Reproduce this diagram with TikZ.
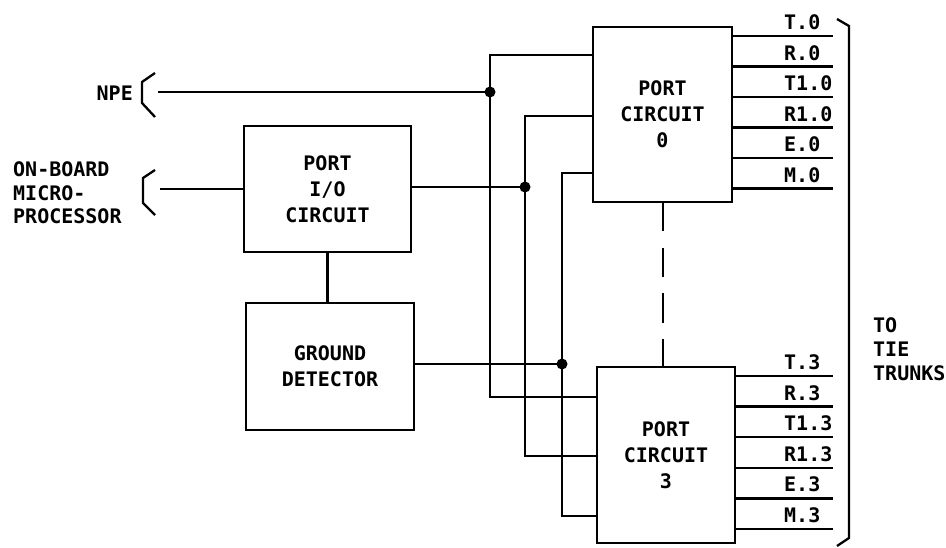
\documentclass[tikz,border=0pt]{standalone}
\usepackage{fontspec}
\usepackage{tikz}
\usetikzlibrary{positioning,calc}
\newfontfamily\draftfont{DejaVu Sans Mono}

\begin{document}
\begin{tikzpicture}[x=1pt, y=-1pt,
    every node/.style={font=\draftfont\bfseries\fontsize{20}{26}\selectfont},
    box/.style={draw, line width=2.7pt, align=center, inner sep=0pt},
    wire/.style={line width=2.3pt},
    tap/.style={circle, fill, inner sep=0pt, minimum size=11pt}]
  \useasboundingbox[fill=white] (0,0) rectangle (946,548);
  \node[box, minimum width=167pt, minimum height=126pt] (io) at (327.5,189) {PORT\\I/O\\CIRCUIT};
  \node[box, minimum width=168pt, minimum height=127pt] (gd) at (330,366.5) {GROUND\\DETECTOR};
  \node[box, minimum width=139pt, minimum height=175pt] (pc0) at (662.5,114.5) {PORT\\CIRCUIT\\0};
  \node[box, minimum width=138pt, minimum height=176pt] (pc3) at (666,455) {PORT\\CIRCUIT\\3};
  \node[anchor=east, inner sep=0pt] (npelbl) at (133,93) {NPE};
  \node[anchor=west, inner sep=0pt, align=left, font=\draftfont\bfseries\fontsize{20}{23.5}\selectfont] (mplbl) at (13,193) {ON-BOARD\\MICRO-\\PROCESSOR};
  \node[anchor=west, inner sep=0pt, align=left, font=\draftfont\bfseries\fontsize{20}{24}\selectfont] (ttlbl) at (873,349) {TO\\TIE\\TRUNKS};
  \coordinate (npe) at (158,92);
  \coordinate (mp) at (160,189);
  \coordinate (j1) at (490,92);
  \coordinate (j2) at (525,187);
  \coordinate (j3) at (562,364);
  \draw[wire] (npe) -- (j1);
  \draw[wire] (mp) -- (io.west |- mp);
  \draw[wire] (io.east |- j2) -- (j2);
  \draw[wire] (gd.east |- j3) -- (j3);
  \draw[wire] (io.south) -- (io.south |- gd.north);
  \draw[wire] (pc0.west |- 0,55) -| (j1) |- (pc3.west |- 0,397);
  \draw[wire] (pc0.west |- 0,116) -| (j2) |- (pc3.west |- 0,456);
  \draw[wire] (pc0.west |- 0,173) -| (j3) |- (pc3.west |- 0,516);
  \node[tap] (d1) at (j1) {};
  \node[tap] (d2) at (j2) {};
  \node[tap] (d3) at (j3) {};
  \draw[wire, dash pattern=on 28pt off 17pt on 29pt off 16pt on 30pt off 16pt on 40pt] (pc0.south -| 663,0) -- (pc3.north -| 663,0);
  \foreach \lbl [count=\i from 0] in {T.0,R.0,T1.0,R1.0,E.0,M.0}{
    \coordinate (a\i) at (833,{36+30.5*\i});
    \draw[wire] (pc0.east |- a\i) -- (a\i);
    \node[anchor=south west, inner sep=0pt] (la\i) at ($(a\i)+(-49,-6)$) {\lbl};
  }
  \foreach \lbl [count=\i from 0] in {T.3,R.3,T1.3,R1.3,E.3,M.3}{
    \coordinate (b\i) at (833,{376+30.6*\i});
    \draw[wire] (pc3.east |- b\i) -- (b\i);
    \node[anchor=south west, inner sep=0pt] (lb\i) at ($(b\i)+(-49,-6)$) {\lbl};
  }
  \draw[wire] (155,73) -- (142,82) -- (142,103) -- (155,117);
  \draw[wire] (155,170) -- (143,178) -- (143,203) -- (155,215);
  \draw[wire] (837,19) -- (849,26) -- (849,538) -- (837,546);
\end{tikzpicture}
\end{document}
